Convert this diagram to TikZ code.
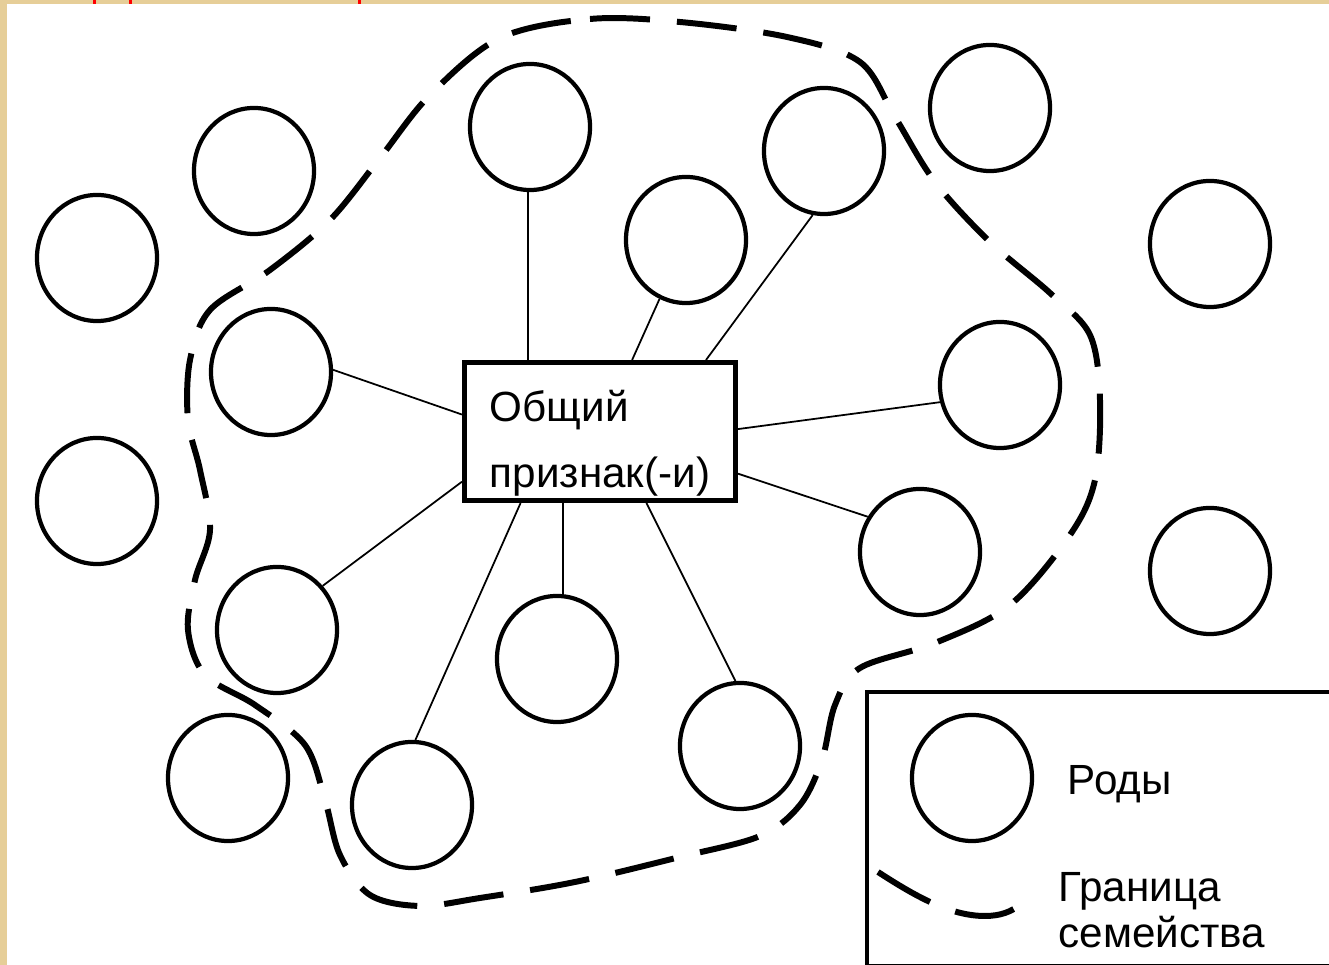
\documentclass[tikz,border=0pt]{standalone}
\usepackage{fontspec}
\setmainfont{Liberation Sans}
\usetikzlibrary{shapes,positioning}
\usepackage{xcolor}
\definecolor{wood}{RGB}{230,206,152}

\begin{document}
\begin{tikzpicture}[x=0.01cm, y=-0.01cm]
      \tikzstyle{rod} = [ellipse, draw, line width=1.2pt, minimum width=1.2cm, minimum height=1.26cm, inner sep=0pt]
      \tikzstyle{hub} = [rectangle, draw, line width=1.4pt, minimum width=2.71cm, inner xsep=0pt, inner ysep=0pt, text height=1.245cm, text depth=0.135cm, align=left, font=\fontsize{12}{18.5}\selectfont]
      \tikzstyle{link} = [line width=0.5pt]
      \tikzstyle{border} = [line width=1.7pt, dash pattern=on 0.6cm off 0.27cm]
      \tikzstyle{legtext} = [inner sep=0pt, align=left, font=\fontsize{12}{13.1}\selectfont]

      % frame of the slide
      \fill[wood] (0,0) rectangle (1329,965);
      \fill[white] (7,4) rectangle (1329,965);
      \useasboundingbox (0,0) rectangle (1329,965);
      \fill[red] (93,0) rectangle (96,4);
      \fill[red] (129,0) rectangle (132,4);
      \fill[red] (358,0) rectangle (361,4);

      \node[hub] (hub) at (600,431.5) {Общий\\признак(-и)};

      \node[rod] (r1) at (97,258) {};
      \node[rod] (r2) at (254,171) {};
      \node[rod] (r3) at (530,127) {};
      \node[rod] (r4) at (686,240) {};
      \node[rod] (r5) at (824,151) {};
      \node[rod] (r6) at (990,108) {};
      \node[rod] (r7) at (1210,244) {};
      \node[rod] (r8) at (271,372) {};
      \node[rod] (r9) at (1000,385) {};
      \node[rod] (r10) at (97,501) {};
      \node[rod] (r11) at (920,552) {};
      \node[rod] (r12) at (1210,571) {};
      \node[rod] (r13) at (277,630) {};
      \node[rod] (r14) at (557,659) {};
      \node[rod] (r15) at (740,746) {};
      \node[rod] (r16) at (228,778) {};
      \node[rod] (r17) at (412,805) {};

      \draw[link] (r3.268) -- (r3.268 |- hub.north);
      \draw[link] (hub) -- (r4);
      \draw[link] (hub.34) -- (r5.260);
      \draw[link] (hub.173) -- (r8.2);
      \draw[link] (hub.200) -- (r13.44);
      \draw[link] (hub.1.5) -- (r9.196);
      \draw[link] (hub.343.6) -- (r11.146);
      \draw[link] (hub.303.9) -- (r15.94);
      \draw[link] (hub.222.9) -- (r17.87);
      \draw[link] (r14.85) -- (r14.85 |- hub.south);

      % family boundary
      \draw[border] plot[smooth cycle, tension=0.55] coordinates {
        (500,38) (590,19) (680,22) (787,37) (860,62) (895,117) (935,182)
        (990,242) (1050,293) (1090,335) (1100,400) (1095,480) (1070,535)
        (1010,605) (935,643) (860,668) (835,705) (822,760) (800,805)
        (760,836) (680,857) (575,882) (480,898) (420,906) (370,895)
        (340,855) (325,800) (305,745) (255,705) (205,675) (188,630)
        (195,580) (210,530) (200,470) (188,420) (190,360) (210,310)
        (270,270) (330,220) (380,158) (430,95)};

      % legend
      \node[draw, line width=1.2pt, minimum width=4.9cm, minimum height=2.74cm, anchor=north west] (legend) at (865,690) {};
      \node[rod] (legrod) at (972,778) {};
      \node[legtext, right=0.33cm of legrod, yshift=-0.06cm] (legrodtext) {Роды};
      \draw[border] (878,872) .. controls (915,896) and (950,916) .. (985,916) .. controls (1000,916) and (1012,912) .. (1022,903);
      \node[legtext, anchor=base west] (legbordertext) at (1058,948) {Граница\\семейства};
\end{tikzpicture}
\end{document}
